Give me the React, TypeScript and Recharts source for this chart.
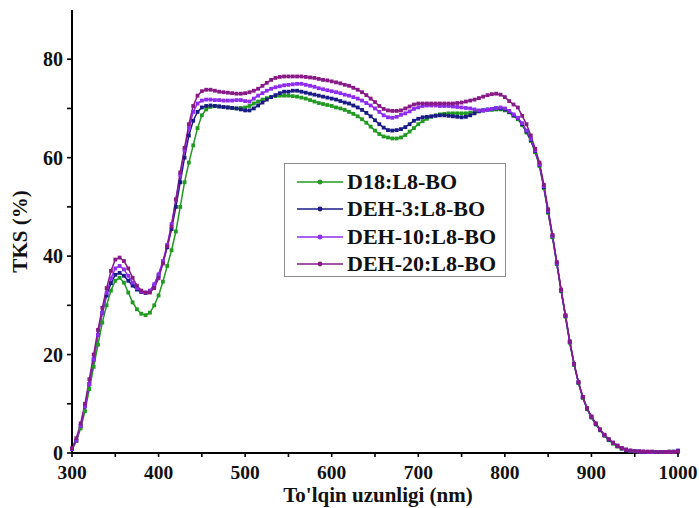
import React from 'react';
import { LineChart, Line, XAxis, YAxis, Legend } from 'recharts';

const wavelengths = [
  300, 305, 310, 315, 320, 325, 330, 335, 340, 345,
  350, 355, 360, 365, 370, 375, 380, 385, 390, 395,
  400, 405, 410, 415, 420, 425, 430, 435, 440, 445,
  450, 455, 460, 465, 470, 475, 480, 485, 490, 495,
  500, 505, 510, 515, 520, 525, 530, 535, 540, 545,
  550, 555, 560, 565, 570, 575, 580, 585, 590, 595,
  600, 605, 610, 615, 620, 625, 630, 635, 640, 645,
  650, 655, 660, 665, 670, 675, 680, 685, 690, 695,
  700, 705, 710, 715, 720, 725, 730, 735, 740, 745,
  750, 755, 760, 765, 770, 775, 780, 785, 790, 795,
  800, 805, 810, 815, 820, 825, 830, 835, 840, 845,
  850, 855, 860, 865, 870, 875, 880, 885, 890, 895,
  900, 905, 910, 915, 920, 925, 930, 935, 940, 945,
  950, 955, 960, 965, 970, 975, 980, 985, 990, 995,
  1000,
];

const d18 = [
  0.8, 2.5, 5, 8.5, 13, 17.5, 22, 26.5, 30, 33,
  35, 35.6, 34.6, 32.6, 30.6, 29.2, 28.3, 28, 28.5, 30,
  32, 34.8, 38, 41.2, 45, 50, 55, 59, 62.5, 66,
  68.6, 69.8, 70.3, 70.5, 70.4, 70.3, 70.2, 70.1, 70, 70.1,
  70.2, 70.5, 71, 71.4, 71.8, 72.1, 72.3, 72.5, 72.6, 72.6,
  72.6, 72.5, 72.4, 72.2, 72, 71.7, 71.4, 71.1, 70.9, 70.7,
  70.5, 70.2, 70, 69.7, 69.3, 68.9, 68.4, 67.8, 67.1, 66.3,
  65.5, 64.8, 64.3, 64.1, 63.9, 63.9, 64.1, 64.6, 65.3, 66,
  66.8, 67.4, 67.9, 68.3, 68.6, 68.8, 68.9, 69, 69, 69,
  69, 69, 69.1, 69.3, 69.5, 69.6, 69.7, 69.7, 69.8, 69.8,
  69.6, 69.2, 68.5, 67.8, 66.6, 65.1, 63.4, 61.1, 58.3, 53.8,
  48.8, 43.8, 38.4, 32.9, 27.7, 22.4, 17.9, 14.2, 11.2, 8.9,
  7.2, 5.8, 4.6, 3.5, 2.6, 1.9, 1.3, 0.9, 0.6, 0.4,
  0.3, 0.3, 0.2, 0.2, 0.2, 0.2, 0.2, 0.2, 0.2, 0.2,
  0.3,
];

const deh3 = [
  0.8, 2.5, 5.5, 9.5, 14, 19, 24, 28.5, 32, 34.5,
  36.2, 36.6, 36, 35, 34, 33.2, 32.7, 32.5, 32.8, 34,
  36, 38.7, 41.8, 45.5, 50, 55, 60, 64.5, 67.5, 69.3,
  70.2, 70.5, 70.6, 70.5, 70.4, 70.3, 70.2, 70.1, 70, 69.8,
  69.6, 69.6, 70, 70.6, 71.2, 71.8, 72.3, 72.7, 73.1, 73.4,
  73.4, 73.6, 73.6, 73.4, 73.2, 73, 72.8, 72.6, 72.4, 72.2,
  72, 71.8, 71.5, 71.2, 71, 70.6, 70.2, 69.7, 69.1, 68.4,
  67.6, 66.8, 66.1, 65.6, 65.5, 65.6, 65.8, 66.2, 66.8, 67.5,
  67.9, 68.2, 68.3, 68.4, 68.5, 68.6, 68.6, 68.5, 68.4, 68.3,
  68.2, 68.3, 68.6, 69, 69.4, 69.6, 69.8, 69.9, 70, 70,
  69.8, 69.3, 68.6, 68, 66.8, 65.3, 63.6, 61.3, 58.5, 54,
  49, 44, 38.5, 33, 27.8, 22.5, 18, 14.3, 11.3, 9,
  7.3, 5.9, 4.7, 3.6, 2.7, 2, 1.4, 0.9, 0.6, 0.4,
  0.3, 0.3, 0.2, 0.2, 0.2, 0.2, 0.2, 0.2, 0.3, 0.3,
  0.5,
];

const deh10 = [
  0.8, 2.5, 5.5, 9.5, 14, 19, 24, 28.5, 32.5, 35.5,
  37.5, 38, 37.3, 36, 34.6, 33.5, 32.8, 32.6, 33, 34.3,
  36.3, 39, 42.3, 46.5, 51.5, 56.5, 61.5, 66, 69.3, 71,
  71.6, 71.8, 71.8, 71.7, 71.7, 71.6, 71.6, 71.6, 71.7, 71.7,
  71.5, 71.4, 72, 72.6, 73.1, 73.6, 74, 74.3, 74.5, 74.7,
  74.8, 74.9, 75, 75, 74.8, 74.6, 74.4, 74.1, 73.9, 73.7,
  73.5, 73.3, 73.1, 72.8, 72.6, 72.3, 72, 71.6, 71.1, 70.6,
  70, 69.3, 68.6, 68.2, 68.1, 68.3, 68.7, 69, 69.4, 69.9,
  70.2, 70.5, 70.6, 70.6, 70.6, 70.5, 70.5, 70.5, 70.4, 70.3,
  70.2, 70.1, 70, 69.8, 69.6, 69.6, 69.7, 69.9, 70.1, 70.2,
  70, 69.5, 68.8, 68.1, 67, 65.5, 63.8, 61.5, 58.6, 54.2,
  49.2, 44.1, 38.6, 33.1, 27.9, 22.6, 18.1, 14.4, 11.4, 9.1,
  7.4, 6, 4.8, 3.7, 2.8, 2.1, 1.5, 1, 0.7, 0.5,
  0.4, 0.3, 0.3, 0.2, 0.2, 0.2, 0.2, 0.2, 0.2, 0.2,
  0.3,
];

const deh20 = [
  1, 3, 6, 10, 15, 20, 25, 29.5, 33.5, 37,
  39.3, 39.7, 39, 37.5, 35.6, 34, 33, 32.6, 32.6, 33.5,
  35.5, 38.5, 42, 46, 51.5, 57, 62, 66.8, 70.5, 72.6,
  73.5, 73.8, 73.8, 73.6, 73.4, 73.3, 73.2, 73.1, 73, 73,
  73.1, 73.3, 73.6, 74, 74.6, 75.2, 75.8, 76.2, 76.4, 76.5,
  76.5, 76.5, 76.5, 76.5, 76.4, 76.3, 76.2, 76, 75.8, 75.7,
  75.5, 75.3, 75.1, 74.8, 74.6, 74.2, 73.8, 73.3, 72.7, 72,
  71.3, 70.5, 69.9, 69.6, 69.5, 69.5, 69.6, 70, 70.4, 70.8,
  71, 71, 71, 71, 71, 71, 71, 71, 71, 71.1,
  71.2, 71.4, 71.6, 71.8, 72.1, 72.4, 72.7, 72.9, 73, 72.8,
  72.3, 71.5, 70.8, 70.2, 68.5, 66.8, 64.5, 61.8, 59, 54.5,
  49.5, 44.3, 38.8, 33.2, 28, 22.7, 18.1, 14.4, 11.4, 9.1,
  7.4, 6, 4.8, 3.7, 2.8, 2.1, 1.5, 1, 0.7, 0.5,
  0.4, 0.3, 0.3, 0.3, 0.3, 0.2, 0.2, 0.2, 0.2, 0.2,
  0.3,
];

const seriesKeys = ['d18', 'deh3', 'deh10', 'deh20'];
const seriesNames = ['D18:L8-BO', 'DEH-3:L8-BO', 'DEH-10:L8-BO', 'DEH-20:L8-BO'];
const seriesColors = ['#229a22', '#1b1b86', '#8e2cf0', '#871a87'];
const seriesValues = [d18, deh3, deh10, deh20];

const xTicks = [300, 350, 400, 450, 500, 550, 600, 650, 700, 750, 800, 850, 900, 950, 1000];
const yTicks = [0, 10, 20, 30, 40, 50, 60, 70, 80];
const xTitle = "To'lqin uzunligi (nm)";
const yTitle = 'TKS (%)';

const data = wavelengths.map((w, i) => {
  const row: any = { w };
  seriesKeys.forEach((k, j) => {
    row[k] = seriesValues[j][i];
  });
  return row;
});

const FONT = '"Liberation Serif", "Times New Roman", Times, serif';

const XTick = (props: any) => {
  const { x, y, payload } = props;
  const major = payload.value % 100 === 0;
  return (
    <g>
      <line x1={x} x2={x} y1={y} y2={y + 4} stroke="#000" strokeWidth={1.6} />
      {major && (
        <text x={x} y={y + 26} textAnchor="middle" fontFamily={FONT} fontWeight="bold" fontSize={19.5} fill="#111">
          {payload.value}
        </text>
      )}
    </g>
  );
};

const YTick = (props: any) => {
  const { x, y, payload } = props;
  const major = payload.value % 20 === 0;
  return (
    <g>
      <line x1={x - 5} x2={x} y1={y} y2={y} stroke="#000" strokeWidth={1.6} />
      {major && (
        <text x={x - 9} y={y} dy="0.35em" textAnchor="end" fontFamily={FONT} fontWeight="bold" fontSize={20} fill="#111">
          {payload.value}
        </text>
      )}
    </g>
  );
};

const makeDot = (color: string) => (props: any) => {
  const { cx, cy, index } = props;
  if (cx == null || cy == null) return <g key={index} />;
  return <rect key={index} x={cx - 1.9} y={cy - 1.9} width={3.8} height={3.8} fill={color} />;
};

const LegendBox = () => (
  <div
    style={{
      width: 222,
      height: 114,
      border: '1px solid #8c8c8c',
      background: '#fff',
      boxSizing: 'border-box',
      paddingTop: 4,
    }}
  >
    {seriesNames.map((n, i) => (
      <div key={n} style={{ display: 'flex', alignItems: 'center', height: 27.5 }}>
        <svg width={62} height={12} style={{ display: 'block' }}>
          <line x1={12} x2={58} y1={6} y2={6} stroke={seriesColors[i]} strokeWidth={1.6} />
          <circle cx={35} cy={6} r={2.4} fill={seriesColors[i]} />
        </svg>
        <span style={{ fontFamily: FONT, fontWeight: 'bold', fontSize: 22, color: '#111', lineHeight: '22px' }}>{n}</span>
      </div>
    ))}
  </div>
);

export default function App() {
  return (
    <div style={{ position: 'absolute', left: 0, top: 0, width: 699, height: 508, background: '#fff' }}>
      <LineChart width={699} height={508} data={data} margin={{ top: 10, right: 21, bottom: 0, left: 0 }}>
        <XAxis
          dataKey="w"
          type="number"
          domain={[300, 1000]}
          ticks={xTicks}
          interval={0}
          height={55}
          tickSize={0}
          tickMargin={0}
          tickLine={false}
          tick={<XTick />}
          axisLine={{ stroke: '#000', strokeWidth: 2 }}
          label={{
            content: (p: any) => {
              const vb = p.viewBox;
              return (
                <text x={vb.x + vb.width / 2 + 3} y={vb.y + 49} textAnchor="middle" fontFamily={FONT} fontWeight="bold" fontSize={21} fill="#111">
                  {xTitle}
                </text>
              );
            },
          }}
        />
        <XAxis xAxisId="top" orientation="top" dataKey="w" type="number" domain={[300, 1000]} height={0} tick={false} tickLine={false} axisLine={{ stroke: '#000', strokeWidth: 2 }} />
        <YAxis
          type="number"
          domain={[0, 90]}
          ticks={yTicks}
          interval={0}
          width={72}
          tickSize={0}
          tickMargin={0}
          tickLine={false}
          tick={<YTick />}
          axisLine={{ stroke: '#000', strokeWidth: 2 }}
          label={{
            content: (p: any) => {
              const vb = p.viewBox;
              const cy = vb.y + vb.height / 2;
              return (
                <text x={27} y={cy} transform={`rotate(-90, 27, ${cy})`} textAnchor="middle" fontFamily={FONT} fontWeight="bold" fontSize={21} fill="#111">
                  {yTitle}
                </text>
              );
            },
          }}
        />
        <YAxis yAxisId="right" orientation="right" domain={[0, 90]} width={0} tick={false} tickLine={false} axisLine={{ stroke: '#000', strokeWidth: 2 }} />
        {seriesKeys.map((k, i) => (
          <Line
            key={k}
            dataKey={k}
            name={seriesNames[i]}
            stroke={seriesColors[i]}
            strokeWidth={1.5}
            dot={makeDot(seriesColors[i])}
            activeDot={false}
            isAnimationActive={false}
            type="linear"
          />
        ))}
        <Legend
          layout="horizontal"
          verticalAlign="middle"
          align="center"
          content={<LegendBox />}
          wrapperStyle={{ position: 'absolute', left: 284, top: 163, width: 222, height: 114 }}
        />
      </LineChart>
    </div>
  );
}
